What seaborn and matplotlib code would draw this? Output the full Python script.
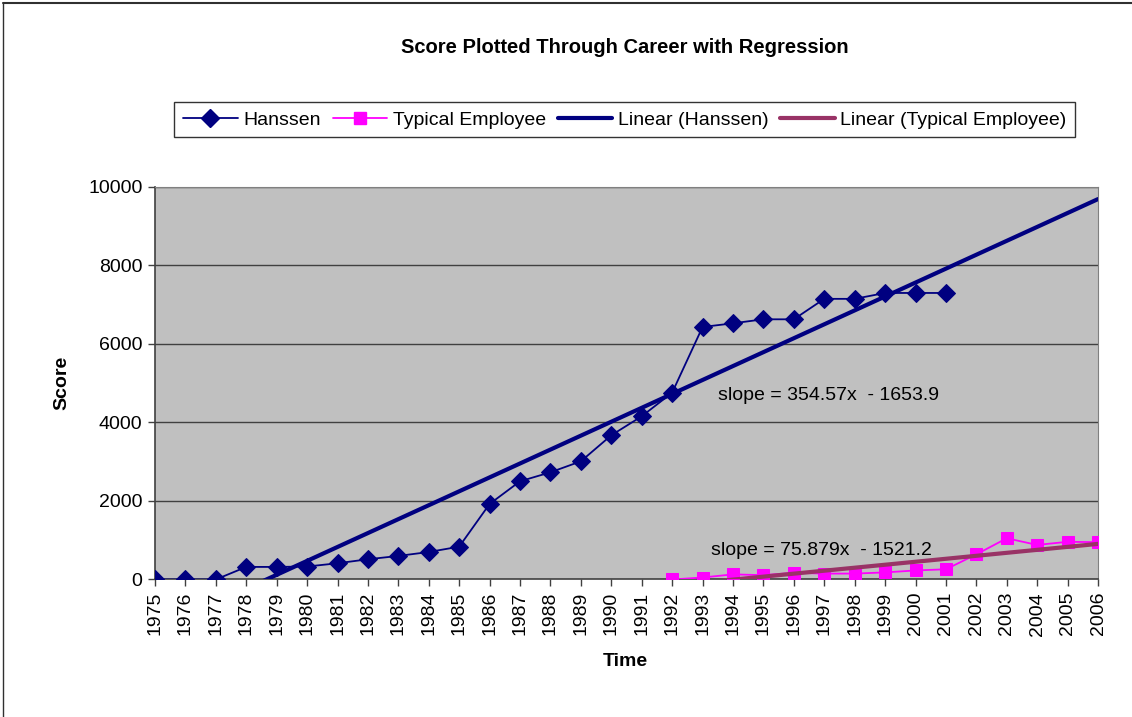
import numpy as np
import pandas as pd
import seaborn as sns
from matplotlib import pyplot as plt
from matplotlib.lines import Line2D

years = [str(y) for y in range(1975, 2007)]
hanssen = [0, 0, 0, 320, 320, 330, 413, 515, 600, 700, 836, 1924, 2502, 2731,
           3011, 3674, 4158, 4759, 6433, 6527, 6629, 6629, 7150, 7150, 7300,
           7300, 7300]
typical_years = years[17:]
typical = [0, 50, 130, 110, 170, 150, 150, 180, 230, 260, 640, 1050, 880, 960, 950]

# Excel trendline coefficients (x = category index starting at 1)
trend_hanssen = (354.57, -1653.9)
trend_typical = (75.879, -1521.2)

navy = '#000080'
magenta = '#FF00FF'
plum = '#993366'

sns.set_style('white')
plt.rcParams['font.family'] = ['Liberation Sans', 'DejaVu Sans']
plt.rcParams['text.color'] = 'black'
plt.rcParams['xtick.color'] = 'black'
plt.rcParams['ytick.color'] = 'black'

fig = plt.figure(figsize=(11.32, 7.17), dpi=100)
ax = fig.add_axes([0.1369, 0.1918, 0.8331, 0.5474])
ax.set_facecolor('#C0C0C0')

idx = {y: i for i, y in enumerate(years)}
df_h = pd.DataFrame({'x': [idx[y] for y in years[:len(hanssen)]], 'score': hanssen})
df_t = pd.DataFrame({'x': [idx[y] for y in typical_years], 'score': typical})

# trend lines over the category range of each series
xh = np.arange(len(years))
df_th = pd.DataFrame({'x': xh, 'score': trend_hanssen[0] * (xh + 1) + trend_hanssen[1]})
xt = np.arange(idx[typical_years[0]], len(years))
df_tt = pd.DataFrame({'x': xt, 'score': trend_typical[0] * (xt + 1) + trend_typical[1]})

sns.lineplot(data=df_th, x='x', y='score', color=navy, lw=3, ax=ax, zorder=3)
sns.lineplot(data=df_h, x='x', y='score', color=navy, lw=1.3, marker='D',
             markersize=9, markeredgecolor=navy, ax=ax, zorder=4)
sns.lineplot(data=df_t, x='x', y='score', color=magenta, lw=1.3, marker='s',
             markersize=8, markeredgecolor=magenta, ax=ax, zorder=4)
sns.lineplot(data=df_tt, x='x', y='score', color=plum, lw=3, ax=ax, zorder=5)

ax.set_xlim(0, len(years) - 1)
ax.set_ylim(0, 10000)
ax.set_yticks(range(0, 10001, 2000))
ax.set_xticks(range(len(years)))
ax.set_xticklabels(years, rotation=90, fontsize=14)
ax.tick_params(axis='y', labelsize=14)
ax.tick_params(axis='both', direction='out', length=5, width=1, color='#404040',
               left=True, bottom=True, pad=4)
for y in range(2000, 10001, 2000):
    ax.axhline(y, color='#404040', lw=1, zorder=1)

for s in ['top', 'right']:
    ax.spines[s].set_color('#808080')
for s in ['left', 'bottom']:
    ax.spines[s].set_color('#404040')
    ax.spines[s].set_linewidth(1.2)

ax.set_xlabel('')
ax.set_ylabel('')

ax.text(18.5, 4700, 'slope = 354.57x  - 1653.9', fontsize=14, va='center', ha='left', zorder=6)
ax.text(18.28, 726, 'slope = 75.879x  - 1521.2', fontsize=14, va='center', ha='left', zorder=6)

fig.text(0.552, 0.934, 'Score Plotted Through Career with Regression', fontsize=14.5,
         fontweight='bold', ha='center', va='center')
fig.text(0.055, 0.466, 'Score', fontsize=14, fontweight='bold', rotation=90,
         ha='center', va='center')
fig.text(0.552, 0.078, 'Time', fontsize=14, fontweight='bold', ha='center', va='center')

handles = [
    Line2D([], [], color=navy, lw=1.3, marker='D', markersize=9),
    Line2D([], [], color=magenta, lw=1.3, marker='s', markersize=8),
    Line2D([], [], color=navy, lw=3),
    Line2D([], [], color=plum, lw=3),
]
labels = ['Hanssen', 'Typical Employee', 'Linear (Hanssen)', 'Linear (Typical Employee)']
leg = fig.legend(handles, labels, loc='center', bbox_to_anchor=(0.552, 0.833), ncol=4,
                 fontsize=14, frameon=True, fancybox=False, edgecolor='black',
                 handlelength=2.8, handletextpad=0.3, columnspacing=0.6,
                 borderpad=0.45)
leg.get_frame().set_linewidth(1)

# outer chart border (top and left visible)
fig.add_artist(Line2D([0.003, 1], [0.996, 0.996], color='#303030', lw=1.5))
fig.add_artist(Line2D([0.003, 0.003], [0, 0.996], color='#303030', lw=1))

plt.savefig('out.png', dpi=100)
